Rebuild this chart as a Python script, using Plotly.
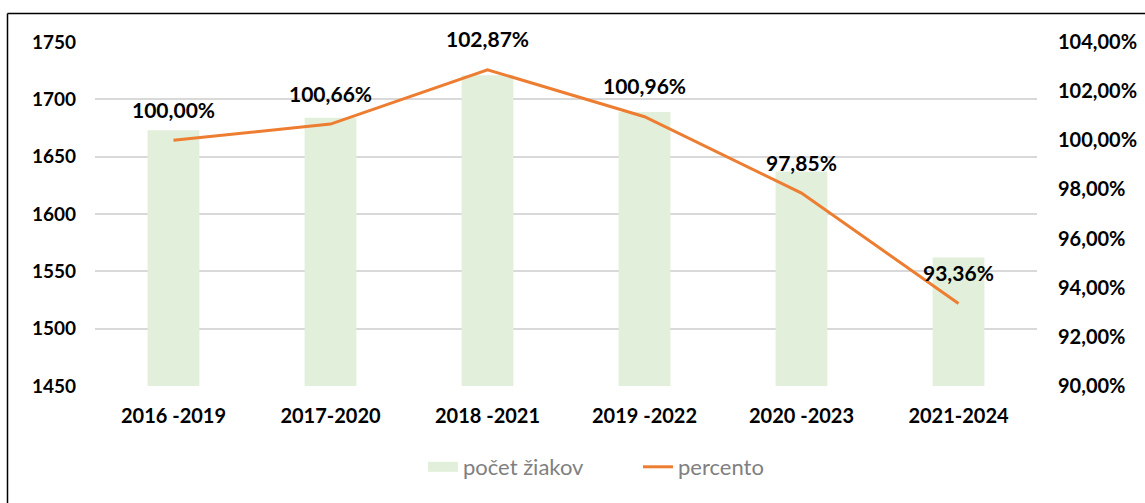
import plotly.graph_objects as go

categories = ["2016 -2019", "2017-2020", "2018 -2021", "2019 -2022", "2020 -2023", "2021-2024"]
pocet_ziakov = [1673, 1684, 1721, 1689, 1637, 1562]
percento = [1.0000, 1.0066, 1.0287, 1.0096, 0.9785, 0.9336]

left_ticks = [1450, 1500, 1550, 1600, 1650, 1700, 1750]
right_ticks = [0.90, 0.92, 0.94, 0.96, 0.98, 1.00, 1.02, 1.04]

FONT = "Lato"
W, H = 1145, 503
L, R, T, B = 95, 108, 42, 117
pw, ph = W - L - R, H - T - B

fig = go.Figure()
fig.add_trace(go.Bar(
    x=categories, y=pocet_ziakov, name="počet žiakov",
    marker=dict(color="#E2EFDA", line=dict(width=0)),
    yaxis="y", showlegend=False,
))
# legend entry for the bars (wide rectangle like the reference)
fig.add_trace(go.Scatter(
    x=[None], y=[None], name="počet žiakov", mode="lines",
    line=dict(color="#E2EFDA", width=15), yaxis="y",
))
fig.add_trace(go.Scatter(
    x=categories, y=percento, name="percento", mode="lines",
    line=dict(color="#ED7D31", width=3),
    yaxis="y2",
))

for c, v in zip(categories, percento):
    fig.add_annotation(
        x=c, y=v, xref="x", yref="y2",
        text=f"{v*100:.2f}%".replace(".", ","),
        showarrow=False, yshift=31,
        font=dict(family=FONT, size=21, color="#000000", weight="bold"),
    )

def px_x(p):
    return (p - L) / pw

def px_y(p):
    return (H - B - p) / ph

# chart border (left and top visible)
fig.add_shape(type="line", xref="paper", yref="paper",
              x0=px_x(7.5), x1=px_x(7.5), y0=px_y(13.5), y1=px_y(510),
              line=dict(color="#000000", width=1.5))
fig.add_shape(type="line", xref="paper", yref="paper",
              x0=px_x(7.5), x1=px_x(1150), y0=px_y(13.5), y1=px_y(13.5),
              line=dict(color="#000000", width=1.5))

fig.update_layout(
    width=W, height=H,
    margin=dict(l=L, r=R, t=T, b=B, autoexpand=False),
    paper_bgcolor="white", plot_bgcolor="white",
    separators=", ",
    bargap=0.67,
    showlegend=True,
    legend=dict(orientation="h", x=px_x(423), xanchor="left", y=px_y(467), yanchor="middle",
                font=dict(family=FONT, size=22, color="#808080"),
                entrywidth=170, entrywidthmode="pixels", tracegroupgap=0),
    xaxis=dict(
        type="category", showgrid=False, zeroline=False, showline=False,
        ticks="", ticklabelstandoff=16, automargin=False,
        tickfont=dict(family=FONT, size=20, color="#000000", weight="bold"),
    ),
    yaxis=dict(
        range=[1450, 1750], tickvals=left_ticks, showgrid=True,
        gridcolor="#D9D9D9", gridwidth=1.5, zeroline=False, showline=False,
        ticks="", ticklabelstandoff=18, automargin=False,
        tickfont=dict(family=FONT, size=19, color="#000000", weight="bold"),
    ),
    yaxis2=dict(
        range=[0.90, 1.04], tickvals=right_ticks, tickformat=".2%",
        overlaying="y", side="right", showgrid=False, zeroline=False, showline=False,
        ticks="", ticklabelstandoff=20, automargin=False,
        tickfont=dict(family=FONT, size=20, color="#000000", weight="bold"),
    ),
)

fig.write_html("out.html", config={"displayModeBar": False},
               post_script="document.body.style.margin='0';")
